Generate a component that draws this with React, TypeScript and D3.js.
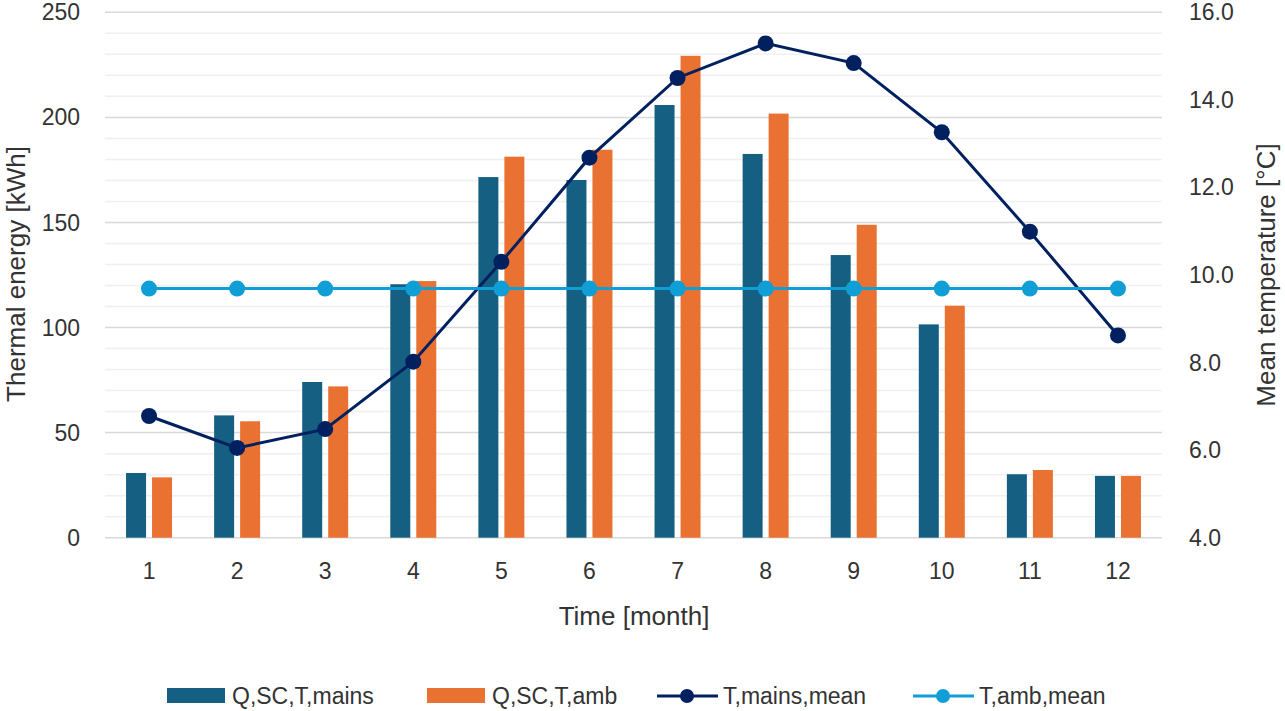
import * as d3 from 'd3';

const months = ['1', '2', '3', '4', '5', '6', '7', '8', '9', '10', '11', '12'];
const qMains = [30.8, 58.2, 74.1, 120.6, 171.6, 170.2, 205.9, 182.6, 134.5, 101.5, 30.2, 29.4];
const qAmb = [28.7, 55.4, 72.0, 122.1, 181.3, 184.6, 229.3, 201.8, 148.9, 110.4, 32.2, 29.4];
const tMains = [6.78, 6.05, 6.48, 8.02, 10.3, 12.68, 14.5, 15.29, 14.84, 13.26, 10.99, 8.62];
const tAmb = [9.69, 9.69, 9.69, 9.69, 9.69, 9.69, 9.69, 9.69, 9.69, 9.69, 9.69, 9.69];
const leftTicks = [0, 50, 100, 150, 200, 250];
const rightTicks = [4, 6, 8, 10, 12, 14, 16];
const legendLabels = ['Q,SC,T,mains', 'Q,SC,T,amb', 'T,mains,mean', 'T,amb,mean'];

const W = 1285;
const H = 711;
const FONT = '"Liberation Sans", Arial, sans-serif';
const TEXT = '#333333';
const C_MAINS = '#156082';
const C_AMB = '#E97132';
const C_TMAINS = '#002060';
const C_TAMB = '#0F9ED5';

export default function App() {
  const plot = { left: 105, right: 1162, top: 12.3, bottom: 537.7 };

  const x = d3.scaleBand().domain(months).range([plot.left, plot.right]).padding(0);
  const xSub = d3
    .scaleBand()
    .domain(['mains', 'amb'])
    .range([0, 46])
    .paddingInner(0.2308)
    .paddingOuter(0);
  const yL = d3.scaleLinear().domain([0, 250]).range([plot.bottom, plot.top]);
  const yR = d3.scaleLinear().domain([4, 16]).range([plot.bottom, plot.top]);

  const cx = (m: string) => (x(m) ?? 0) + x.bandwidth() / 2;
  const minor = d3.range(0, 251, 10).filter((v) => v % 50 !== 0);

  const line = d3
    .line<number>()
    .x((_, i) => cx(months[i]))
    .y((d) => yR(d));

  const series = [
    { key: 'mains', values: qMains, color: C_MAINS },
    { key: 'amb', values: qAmb, color: C_AMB },
  ];
  const lines = [
    { values: tMains, color: C_TMAINS },
    { values: tAmb, color: C_TAMB },
  ];

  // legend layout
  const legendX = [167, 427, 657, 913];
  const legendY = 696;

  return (
    <svg
      width={W}
      height={H}
      style={{ position: 'absolute', left: 0, top: 0, background: '#fff' }}
      fontFamily={FONT}
    >
      {/* gridlines */}
      {minor.map((v) => (
        <line key={'mi' + v} x1={plot.left} x2={plot.right} y1={yL(v)} y2={yL(v)} stroke="#f0f0f0" strokeWidth={1.5} />
      ))}
      {leftTicks.map((v) => (
        <line key={'ma' + v} x1={plot.left} x2={plot.right} y1={yL(v)} y2={yL(v)} stroke="#d9d9d9" strokeWidth={1.5} />
      ))}

      {/* bars */}
      {series.map((s) => (
        <g key={s.key} fill={s.color}>
          {s.values.map((v, i) => (
            <rect
              key={i}
              x={cx(months[i]) - 23 + (xSub(s.key) ?? 0)}
              y={yL(v)}
              width={xSub.bandwidth()}
              height={yL(0) - yL(v)}
            />
          ))}
        </g>
      ))}

      {/* lines */}
      {lines.map((l, k) => (
        <g key={k}>
          <path d={line(l.values) ?? ''} fill="none" stroke={l.color} strokeWidth={3} />
          {l.values.map((v, i) => (
            <circle key={i} cx={cx(months[i])} cy={yR(v)} r={8} fill={l.color} />
          ))}
        </g>
      ))}

      {/* left axis labels */}
      {leftTicks.map((v) => (
        <text key={'l' + v} x={80} y={yL(v)} dy="0.35em" textAnchor="end" fontSize={23} fill={TEXT}>
          {v}
        </text>
      ))}
      {/* right axis labels */}
      {rightTicks.map((v) => (
        <text key={'r' + v} x={1189} y={yR(v)} dy="0.35em" textAnchor="start" fontSize={23} fill={TEXT}>
          {v.toFixed(1)}
        </text>
      ))}
      {/* x axis labels */}
      {months.map((m) => (
        <text key={'x' + m} x={cx(m)} y={579} textAnchor="middle" fontSize={23} fill={TEXT}>
          {m}
        </text>
      ))}

      {/* axis titles */}
      <text x={634} y={625} textAnchor="middle" fontSize={26} fill={TEXT}>
        Time [month]
      </text>
      <text transform="translate(25,274) rotate(-90)" textAnchor="middle" fontSize={26} fill={TEXT}>
        Thermal energy [kWh]
      </text>
      <text transform="translate(1275,275) rotate(-90)" textAnchor="middle" fontSize={26} fill={TEXT}>
        Mean temperature [°C]
      </text>

      {/* legend */}
      {legendLabels.map((lab, i) => {
        const lx = legendX[i];
        const color = [C_MAINS, C_AMB, C_TMAINS, C_TAMB][i];
        return (
          <g key={lab}>
            {i < 2 ? (
              <rect x={lx} y={legendY - 8} width={58} height={15} fill={color} />
            ) : (
              <g>
                <line x1={lx} x2={lx + 61} y1={legendY} y2={legendY} stroke={color} strokeWidth={3} />
                <circle cx={lx + 30} cy={legendY} r={7} fill={color} />
              </g>
            )}
            <text x={lx + (i < 2 ? 65 : 66)} y={legendY + 8} fontSize={23} fill={TEXT}>
              {lab}
            </text>
          </g>
        );
      })}
    </svg>
  );
}
